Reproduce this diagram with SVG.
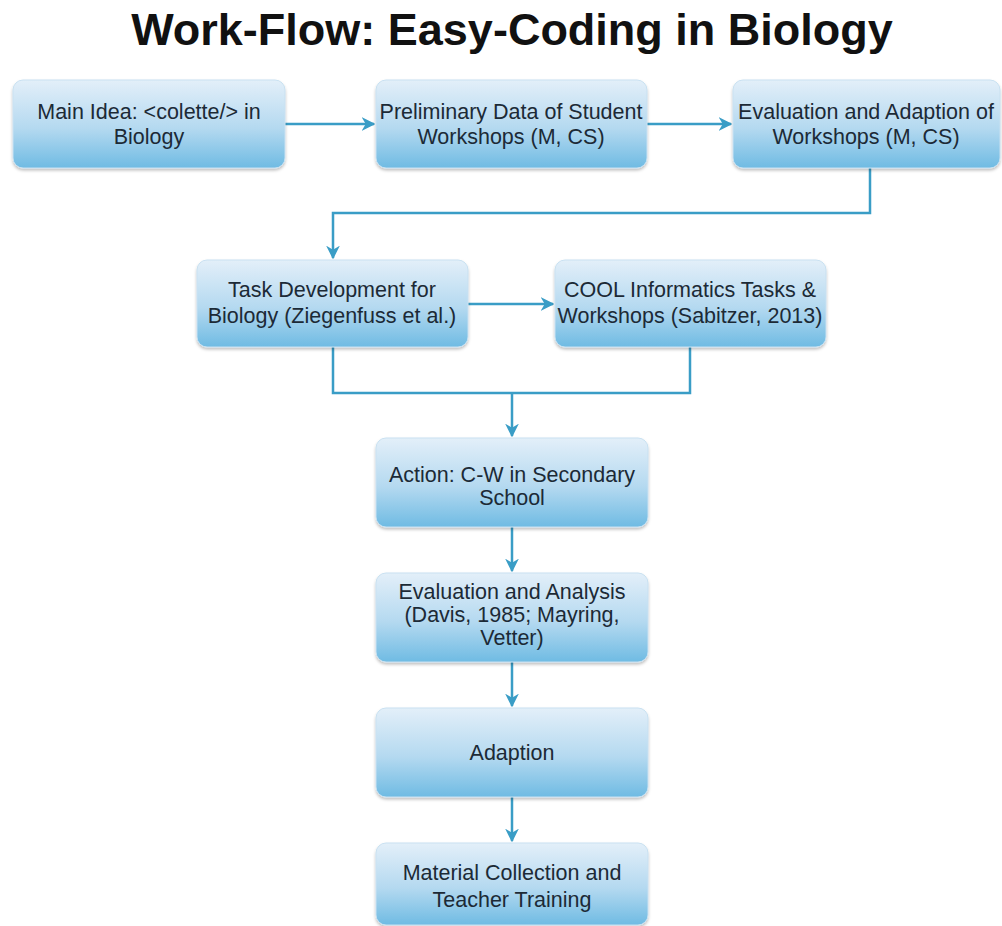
<svg xmlns="http://www.w3.org/2000/svg" width="1002" height="926" viewBox="0 0 1002 926">
<defs>
<linearGradient id="g" x1="0" y1="0" x2="0" y2="1">
<stop offset="0" stop-color="#e3eff9"/>
<stop offset="0.55" stop-color="#b4d9f0"/>
<stop offset="1" stop-color="#6fbbe3"/>
</linearGradient>
<filter id="sh" x="-5%" y="-5%" width="110%" height="120%">
<feDropShadow dx="0" dy="2" stdDeviation="1.5" flood-color="#000" flood-opacity="0.25"/>
</filter>
<marker id="ah" viewBox="0 0 10 10" refX="9" refY="5" markerWidth="5.5" markerHeight="5.5" orient="auto" markerUnits="strokeWidth">
<path d="M0,0 L10,5 L0,10 L3,5 z" fill="#3a9dc6"/>
</marker>
</defs>
<style>
.box{fill:url(#g);stroke:#c9e1f1;stroke-width:1;filter:url(#sh)}
.t{font-family:"Liberation Sans",Arial,sans-serif;font-size:21.5px;fill:#1c2a36;text-anchor:middle}
.title{font-family:"Liberation Sans",Arial,sans-serif;font-size:45px;font-weight:bold;fill:#111;text-anchor:middle}
.c{fill:none;stroke:#3a9dc6;stroke-width:2.5}
</style>
<rect width="1002" height="926" fill="#fff"/>
<text class="title" x="512" y="45">Work-Flow: Easy-Coding in Biology</text>
<g id="connectors">
<path class="c" d="M285,124 H374" marker-end="url(#ah)"/>
<path class="c" d="M647,124 H731" marker-end="url(#ah)"/>
<path class="c" d="M870,168 V213 H333 V258" marker-end="url(#ah)"/>
<path class="c" d="M468,304 H553" marker-end="url(#ah)"/>
<path class="c" d="M333,347 V393 H690 V347"/>
<path class="c" d="M512,393 V436" marker-end="url(#ah)"/>
<path class="c" d="M512,527 V571" marker-end="url(#ah)"/>
<path class="c" d="M512,662 V706" marker-end="url(#ah)"/>
<path class="c" d="M512,797 V841" marker-end="url(#ah)"/>
</g>
<g id="n1"><rect class="box" x="13" y="80" width="272" height="88" rx="10"/>
<text class="t" x="149" y="119">Main Idea: &lt;colette/&gt; in</text><text class="t" x="149" y="144">Biology</text></g>
<g id="n2"><rect class="box" x="376" y="80" width="271" height="88" rx="10"/>
<text class="t" x="511" y="119">Preliminary Data of Student</text><text class="t" x="511" y="144">Workshops (M, CS)</text></g>
<g id="n3"><rect class="box" x="733" y="80" width="267" height="88" rx="10"/>
<text class="t" x="866" y="119">Evaluation and Adaption of</text><text class="t" x="866" y="144">Workshops (M, CS)</text></g>
<g id="n4"><rect class="box" x="197" y="260" width="271" height="87" rx="10"/>
<text class="t" x="332" y="297">Task Development for</text><text class="t" x="332" y="323">Biology (Ziegenfuss et al.)</text></g>
<g id="n5"><rect class="box" x="555" y="260" width="271" height="87" rx="10"/>
<text class="t" x="690" y="297">COOL Informatics Tasks &amp;</text><text class="t" x="690" y="323">Workshops (Sabitzer, 2013)</text></g>
<g id="n6"><rect class="box" x="376" y="438" width="272" height="89" rx="10"/>
<text class="t" x="512" y="482">Action: C-W in Secondary</text><text class="t" x="512" y="505">School</text></g>
<g id="n7"><rect class="box" x="376" y="573" width="272" height="89" rx="10"/>
<text class="t" x="512" y="599">Evaluation and Analysis</text><text class="t" x="512" y="622">(Davis, 1985; Mayring,</text><text class="t" x="512" y="645">Vetter)</text></g>
<g id="n8"><rect class="box" x="376" y="708" width="272" height="89" rx="10"/>
<text class="t" x="512" y="760">Adaption</text></g>
<g id="n9"><rect class="box" x="376" y="843" width="272" height="82" rx="10"/>
<text class="t" x="512" y="880">Material Collection and</text><text class="t" x="512" y="907">Teacher Training</text></g>
</svg>
